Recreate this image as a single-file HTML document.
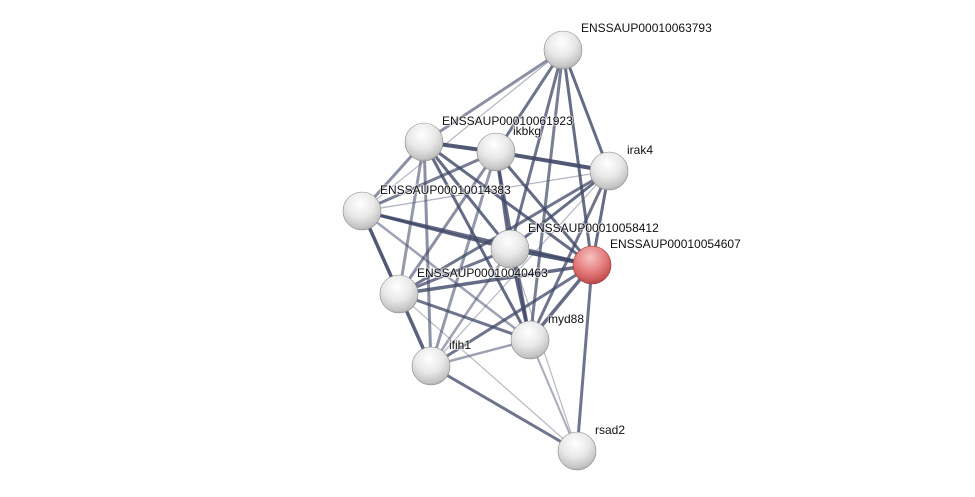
<!DOCTYPE html>
<html><head><meta charset="utf-8"><style>
html,body{margin:0;padding:0;background:#fff;}
svg{display:block;}
text{font-family:"Liberation Sans",sans-serif;font-size:12px;fill:#111;stroke:#fff;stroke-width:2px;stroke-opacity:0.6;paint-order:stroke;}
</style></head><body>
<svg width="975" height="497" viewBox="0 0 975 497" xmlns="http://www.w3.org/2000/svg">
<defs>
<radialGradient id="g" cx="0.45" cy="0.3" r="0.75">
<stop offset="0" stop-color="#ffffff"/><stop offset="0.5" stop-color="#e8e8e8"/><stop offset="0.85" stop-color="#c4c4c4"/><stop offset="1" stop-color="#9a9a9a"/>
</radialGradient>
<radialGradient id="r" cx="0.45" cy="0.3" r="0.75">
<stop offset="0" stop-color="#f6c2c2"/><stop offset="0.5" stop-color="#e58080"/><stop offset="0.85" stop-color="#c85353"/><stop offset="1" stop-color="#a63a3a"/>
</radialGradient>
</defs>
<g stroke="#3f4868" stroke-linecap="round">
<line x1="563" y1="50" x2="424" y2="142" stroke-width="3" opacity="0.6"/>
<line x1="563" y1="50" x2="362" y2="211" stroke-width="1.2" opacity="0.4"/>
<line x1="563" y1="50" x2="496" y2="152" stroke-width="3" opacity="0.75"/>
<line x1="563" y1="50" x2="510" y2="249" stroke-width="3" opacity="0.75"/>
<line x1="563" y1="50" x2="592" y2="265" stroke-width="3" opacity="0.8"/>
<line x1="563" y1="50" x2="609" y2="171" stroke-width="3" opacity="0.8"/>
<line x1="563" y1="50" x2="530" y2="340" stroke-width="3" opacity="0.7"/>
<line x1="424" y1="142" x2="496" y2="152" stroke-width="4" opacity="0.9"/>
<line x1="424" y1="142" x2="362" y2="211" stroke-width="3" opacity="0.6"/>
<line x1="424" y1="142" x2="399" y2="294" stroke-width="3" opacity="0.55"/>
<line x1="424" y1="142" x2="431" y2="366" stroke-width="3" opacity="0.6"/>
<line x1="424" y1="142" x2="510" y2="249" stroke-width="3" opacity="0.8"/>
<line x1="424" y1="142" x2="592" y2="265" stroke-width="3" opacity="0.8"/>
<line x1="424" y1="142" x2="530" y2="340" stroke-width="3" opacity="0.8"/>
<line x1="496" y1="152" x2="609" y2="171" stroke-width="4" opacity="0.9"/>
<line x1="496" y1="152" x2="362" y2="211" stroke-width="3" opacity="0.7"/>
<line x1="496" y1="152" x2="592" y2="265" stroke-width="3" opacity="0.8"/>
<line x1="496" y1="152" x2="510" y2="249" stroke-width="3" opacity="0.8"/>
<line x1="496" y1="152" x2="530" y2="340" stroke-width="3" opacity="0.8"/>
<line x1="496" y1="152" x2="399" y2="294" stroke-width="3" opacity="0.6"/>
<line x1="496" y1="152" x2="431" y2="366" stroke-width="3" opacity="0.55"/>
<line x1="609" y1="171" x2="362" y2="211" stroke-width="1.3" opacity="0.4"/>
<line x1="609" y1="171" x2="510" y2="249" stroke-width="3" opacity="0.8"/>
<line x1="609" y1="171" x2="592" y2="265" stroke-width="3" opacity="0.8"/>
<line x1="609" y1="171" x2="399" y2="294" stroke-width="3" opacity="0.75"/>
<line x1="609" y1="171" x2="530" y2="340" stroke-width="3" opacity="0.75"/>
<line x1="609" y1="171" x2="431" y2="366" stroke-width="1.3" opacity="0.35"/>
<line x1="362" y1="211" x2="510" y2="249" stroke-width="3" opacity="0.85"/>
<line x1="362" y1="211" x2="592" y2="265" stroke-width="3" opacity="0.8"/>
<line x1="362" y1="211" x2="399" y2="294" stroke-width="3.5" opacity="0.9"/>
<line x1="362" y1="211" x2="530" y2="340" stroke-width="2.5" opacity="0.5"/>
<line x1="510" y1="249" x2="592" y2="265" stroke-width="4" opacity="0.9"/>
<line x1="510" y1="249" x2="399" y2="294" stroke-width="3" opacity="0.75"/>
<line x1="510" y1="249" x2="530" y2="340" stroke-width="3.5" opacity="0.85"/>
<line x1="510" y1="249" x2="431" y2="366" stroke-width="2.5" opacity="0.5"/>
<line x1="592" y1="265" x2="399" y2="294" stroke-width="3.5" opacity="0.8"/>
<line x1="592" y1="265" x2="530" y2="340" stroke-width="3.5" opacity="0.8"/>
<line x1="592" y1="265" x2="431" y2="366" stroke-width="3" opacity="0.75"/>
<line x1="592" y1="265" x2="577" y2="451" stroke-width="3" opacity="0.75"/>
<line x1="399" y1="294" x2="530" y2="340" stroke-width="3" opacity="0.75"/>
<line x1="399" y1="294" x2="431" y2="366" stroke-width="3.5" opacity="0.85"/>
<line x1="399" y1="294" x2="577" y2="451" stroke-width="1.3" opacity="0.35"/>
<line x1="530" y1="340" x2="431" y2="366" stroke-width="2.5" opacity="0.5"/>
<line x1="530" y1="340" x2="577" y2="451" stroke-width="2" opacity="0.45"/>
<line x1="510" y1="249" x2="577" y2="451" stroke-width="1.3" opacity="0.35"/>
<line x1="431" y1="366" x2="577" y2="451" stroke-width="3" opacity="0.75"/>
</g>
<g>
<circle cx="563" cy="50" r="19" fill="url(#g)" stroke="#888" stroke-width="0.6"/>
<circle cx="424" cy="142" r="19" fill="url(#g)" stroke="#888" stroke-width="0.6"/>
<circle cx="496" cy="152" r="19" fill="url(#g)" stroke="#888" stroke-width="0.6"/>
<circle cx="609" cy="171" r="19" fill="url(#g)" stroke="#888" stroke-width="0.6"/>
<circle cx="362" cy="211" r="19" fill="url(#g)" stroke="#888" stroke-width="0.6"/>
<circle cx="510" cy="249" r="19" fill="url(#g)" stroke="#888" stroke-width="0.6"/>
<circle cx="592" cy="265" r="19" fill="url(#r)" stroke="#933" stroke-width="0.6"/>
<circle cx="399" cy="294" r="19" fill="url(#g)" stroke="#888" stroke-width="0.6"/>
<circle cx="530" cy="340" r="19" fill="url(#g)" stroke="#888" stroke-width="0.6"/>
<circle cx="431" cy="366" r="19" fill="url(#g)" stroke="#888" stroke-width="0.6"/>
<circle cx="577" cy="451" r="19" fill="url(#g)" stroke="#888" stroke-width="0.6"/>
</g>
<g>
<text x="581" y="32">ENSSAUP00010063793</text>
<text x="513" y="135">ikbkg</text>
<text x="442" y="125">ENSSAUP00010061923</text>
<text x="627" y="154">irak4</text>
<text x="380" y="194">ENSSAUP00010014383</text>
<text x="528" y="232">ENSSAUP00010058412</text>
<text x="610" y="248">ENSSAUP00010054607</text>
<text x="417" y="277">ENSSAUP00010040463</text>
<text x="548" y="323">myd88</text>
<text x="449" y="349">ifih1</text>
<text x="595" y="434">rsad2</text>
</g>
</svg>
</body></html>
